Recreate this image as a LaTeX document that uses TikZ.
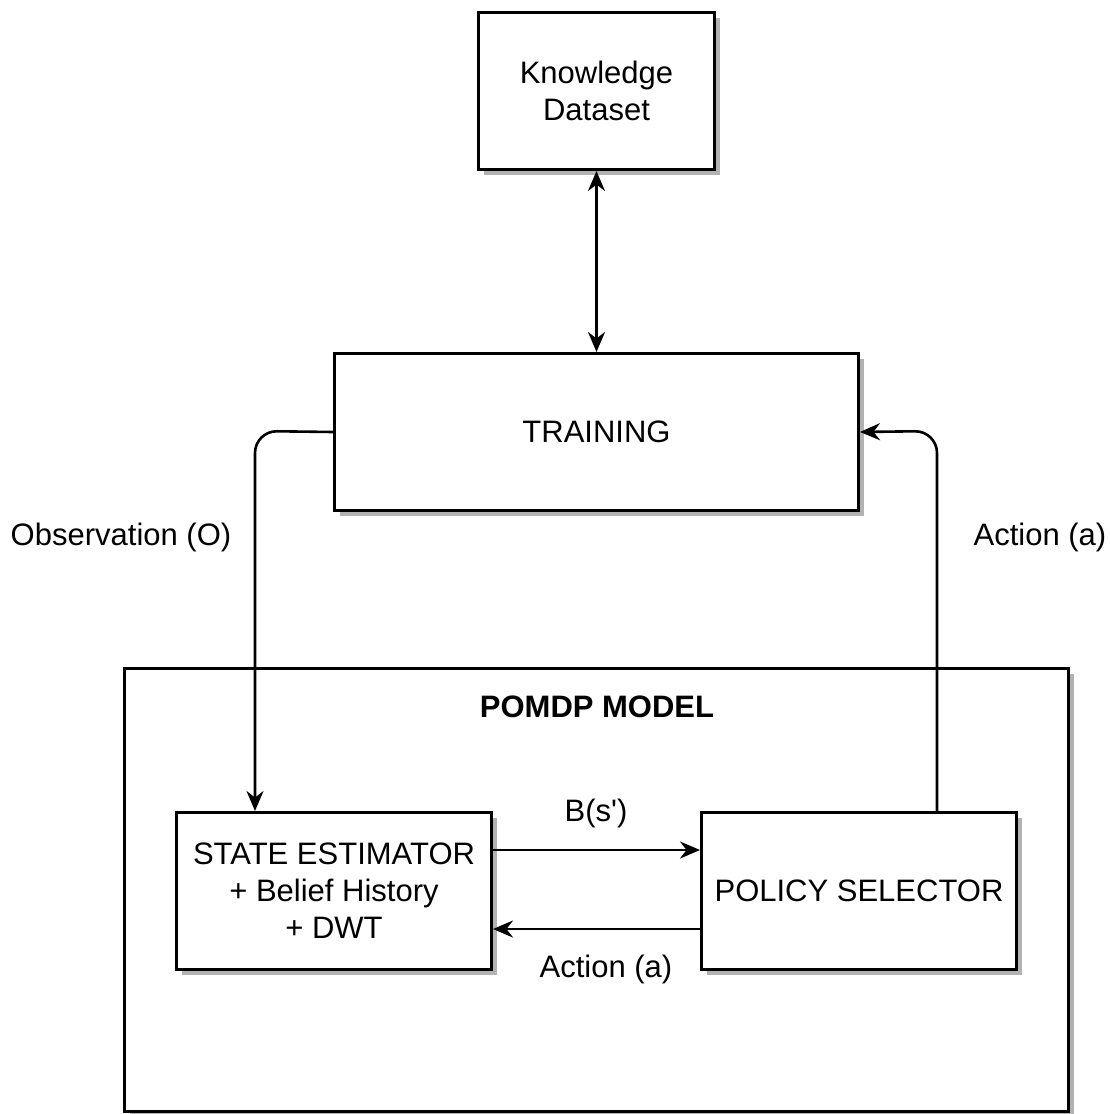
\documentclass[tikz,border=0pt]{standalone}
\usepackage{fontspec}
\setmainfont{Liberation Sans}
\newfontfamily\plainfont{Liberation Sans}
\usetikzlibrary{arrows.meta,shadows,positioning}
\tikzset{
  box/.style={draw=black, line width=3pt, fill=white, rectangle, align=center,
    font=\fontsize{31}{37}\selectfont,
    drop shadow={shadow xshift=5pt, shadow yshift=-5pt, fill=black!30, opacity=1}},
  conn/.style={draw=black, line width=2.6pt, -{Stealth[length=20pt,width=17pt]}},
  lbl/.style={font=\fontsize{31}{37}\selectfont, inner sep=0pt}
}
\begin{document}
\begin{tikzpicture}[x=1pt,y=-1pt]
\useasboundingbox (0,0) rectangle (1110,1114);
% outer POMDP box
\node[box, minimum width=944pt, minimum height=443pt, anchor=north west] (pomdp) at (123,667) {};
\node[lbl, font=\fontsize{31}{37}\selectfont\bfseries] (pomdplbl) at (597,707) {POMDP MODEL};
\node[box, minimum width=236pt, minimum height=157pt, anchor=north west] (kd) at (477,11) {Knowledge\\Dataset};
\node[box, minimum width=524pt, minimum height=157pt, anchor=north west] (train) at (333,352) {TRAINING};
\node[box, minimum width=315pt, minimum height=157pt, anchor=north west] (se) at (175,811) {STATE ESTIMATOR\\+ Belief History\\+ DWT};
\node[box, minimum width=315pt, minimum height=157pt, anchor=north west] (ps) at (700,811) {POLICY SELECTOR};
% connectors
\draw[conn, {Stealth[length=20pt,width=17pt]}-{Stealth[length=20pt,width=17pt]}] (kd.south) -- (train.north);
\draw[conn, rounded corners=22pt] (train.west) -- (255,431) -- (255,811);
\draw[conn, rounded corners=22pt] (937,811) -- (937,431) -- (train.east);
\draw[conn] (se.east |- 0,850) -- (ps.west |- 0,850);
\draw[conn] (ps.west |- 0,929) -- (se.east |- 0,929);
% labels
\node[lbl] (obs) at (121,537) {Observation (O)};
\node[lbl] (act1) at (1040,537) {Action (a)};
\node[lbl, font=\plainfont\fontsize{31}{37}\selectfont] (bs) at (596,813) {B(s')};
\node[lbl] (act2) at (606,969) {Action (a)};
\end{tikzpicture}
\end{document}
